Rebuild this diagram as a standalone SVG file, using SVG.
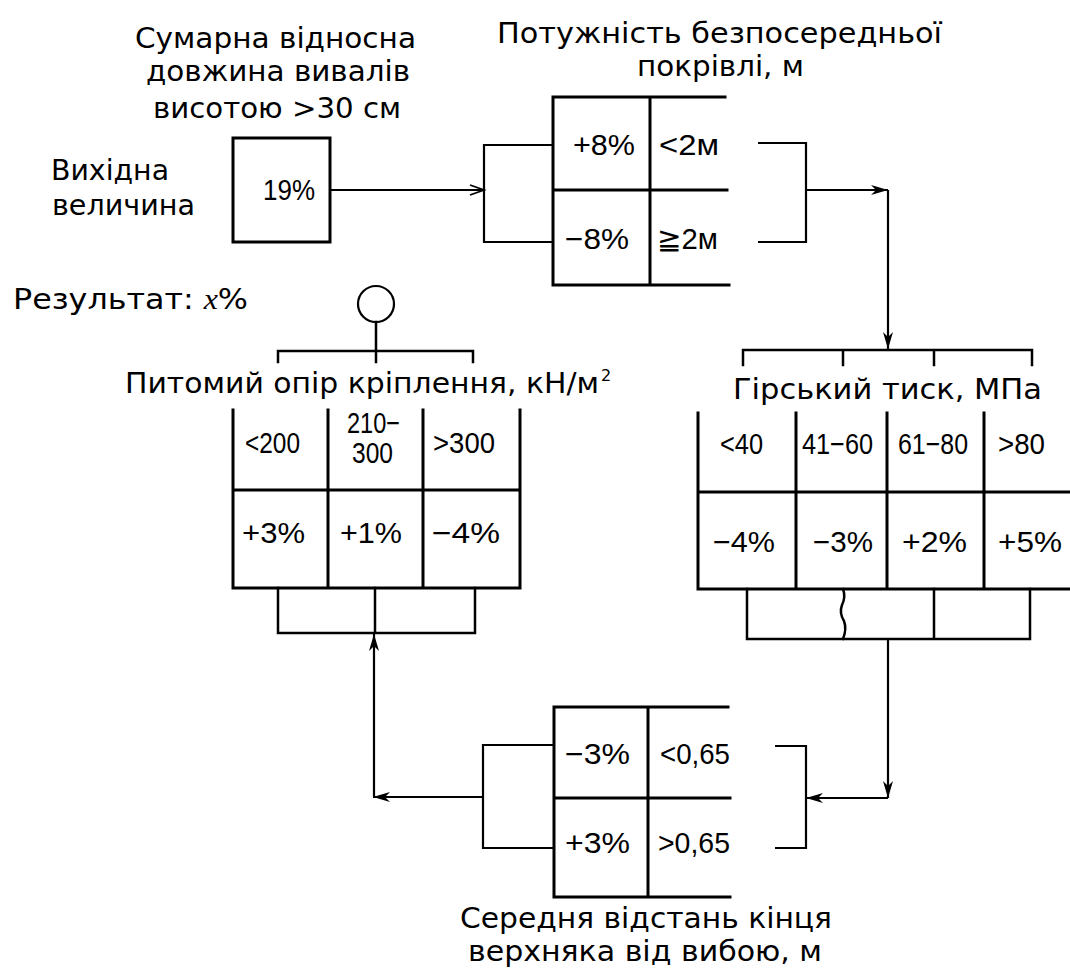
<svg xmlns="http://www.w3.org/2000/svg" width="1070" height="970" viewBox="0 0 1070 970">
<style>
.t{font-family:"DejaVu Sans","Liberation Sans",sans-serif;font-size:29px;fill:#000}
.c{font-family:"Liberation Sans","DejaVu Sans",sans-serif;font-size:29px;fill:#000}
.b{stroke:#000;stroke-width:3;fill:none;stroke-linecap:square}
.l{stroke:#000;stroke-width:2.2;fill:none}
</style>
<defs>
<marker id="ah" markerUnits="userSpaceOnUse" markerWidth="20" markerHeight="12" refX="17" refY="6" orient="auto">
<path d="M0,1 L17,6 L0,11 L5,6 Z" fill="#000"/>
</marker>
<marker id="ao" markerUnits="userSpaceOnUse" markerWidth="18" markerHeight="12" refX="15" refY="6" orient="auto">
<path d="M1,1 L15,6 L1,11 M5,6 L15,6" stroke="#000" stroke-width="1.8" fill="none"/>
</marker>
</defs>
<rect width="1070" height="970" fill="#fff"/>

<g id="labels">
<text class="t" x="135" y="48" textLength="281" lengthAdjust="spacingAndGlyphs">Сумарна відносна</text>
<text class="t" x="146" y="81" textLength="264" lengthAdjust="spacingAndGlyphs">довжина вивалів</text>
<text class="t" x="153" y="118" textLength="248" lengthAdjust="spacingAndGlyphs">висотою &gt;30 см</text>
<text class="t" x="51" y="180" textLength="118" lengthAdjust="spacingAndGlyphs">Вихідна</text>
<text class="t" x="52" y="215" textLength="143" lengthAdjust="spacingAndGlyphs">величина</text>
<text class="t" x="13" y="309" textLength="235" lengthAdjust="spacingAndGlyphs">Результат: <tspan font-family="Liberation Serif,serif" font-style="italic">x</tspan>%</text>
<text class="t" x="497" y="43" textLength="445" lengthAdjust="spacingAndGlyphs">Потужність безпосередньої</text>
<text class="t" x="637" y="76" textLength="167" lengthAdjust="spacingAndGlyphs">покрівлі, м</text>
<text class="t" x="125" y="393" textLength="474" lengthAdjust="spacingAndGlyphs">Питомий опір кріплення, кН/м</text>
<text class="t" x="601" y="381" style="font-size:16px">2</text>
<text class="t" x="733" y="399" textLength="309" lengthAdjust="spacingAndGlyphs">Гірський тиск, МПа</text>
<text class="t" x="460" y="928" textLength="372" lengthAdjust="spacingAndGlyphs">Середня відстань кінця</text>
<text class="t" x="468" y="961" textLength="354" lengthAdjust="spacingAndGlyphs">верхняка від вибою, м</text>
</g>

<g id="input">
<rect class="b" x="233" y="138" width="97" height="104"/>
<text class="c" x="263" y="200" textLength="52" lengthAdjust="spacingAndGlyphs">19%</text>
</g>

<g id="roof-thickness">
<path class="b" d="M553,97 V285 M650,97 V285 M553,97 H725 M553,190 H727 M553,285 H729"/>
<text class="c" x="573" y="155" textLength="62" lengthAdjust="spacingAndGlyphs">+8%</text>
<text class="c" x="659" y="155" textLength="60" lengthAdjust="spacingAndGlyphs">&lt;2м</text>
<text class="c" x="565" y="249" textLength="64" lengthAdjust="spacingAndGlyphs">−8%</text>
<text class="c" x="657" y="249" textLength="61" lengthAdjust="spacingAndGlyphs">≧2м</text>
</g>

<g id="rock-pressure">
<path class="b" d="M698,413 V589 M796,413 V589 M887,413 V589 M984,413 V589 M698,492 H1070 M698,589 H1070"/>
<text class="c" x="720" y="454" textLength="43" lengthAdjust="spacingAndGlyphs">&lt;40</text>
<text class="c" x="802" y="454" textLength="71" lengthAdjust="spacingAndGlyphs">41−60</text>
<text class="c" x="898" y="454" textLength="70" lengthAdjust="spacingAndGlyphs">61−80</text>
<text class="c" x="998" y="454" textLength="47" lengthAdjust="spacingAndGlyphs">&gt;80</text>
<text class="c" x="713" y="552" textLength="62" lengthAdjust="spacingAndGlyphs">−4%</text>
<text class="c" x="813" y="552" textLength="60" lengthAdjust="spacingAndGlyphs">−3%</text>
<text class="c" x="902" y="552" textLength="65" lengthAdjust="spacingAndGlyphs">+2%</text>
<text class="c" x="998" y="552" textLength="64" lengthAdjust="spacingAndGlyphs">+5%</text>
</g>

<g id="support-resistance">
<path class="b" d="M233,410 V588 M328,410 V588 M423,410 V588 M520,410 V588 M233,490 H520 M233,588 H520"/>
<text class="c" x="245" y="453" textLength="55" lengthAdjust="spacingAndGlyphs">&lt;200</text>
<text class="c" x="347" y="433" textLength="53" lengthAdjust="spacingAndGlyphs">210−</text>
<text class="c" x="352" y="463" textLength="41" lengthAdjust="spacingAndGlyphs">300</text>
<text class="c" x="433" y="453" textLength="62" lengthAdjust="spacingAndGlyphs">&gt;300</text>
<text class="c" x="242" y="543" textLength="63" lengthAdjust="spacingAndGlyphs">+3%</text>
<text class="c" x="340" y="543" textLength="62" lengthAdjust="spacingAndGlyphs">+1%</text>
<text class="c" x="432" y="543" textLength="68" lengthAdjust="spacingAndGlyphs">−4%</text>
</g>

<g id="prop-distance">
<path class="b" d="M554,707 V897 M648,707 V897 M554,707 H728 M554,798 H730 M554,897 H730"/>
<text class="c" x="565" y="764" textLength="65" lengthAdjust="spacingAndGlyphs">−3%</text>
<text class="c" x="660" y="764" textLength="70" lengthAdjust="spacingAndGlyphs">&lt;0,65</text>
<text class="c" x="565" y="853" textLength="65" lengthAdjust="spacingAndGlyphs">+3%</text>
<text class="c" x="658" y="853" textLength="72" lengthAdjust="spacingAndGlyphs">&gt;0,65</text>
</g>

<g id="result">
<circle class="l" cx="376" cy="304" r="18"/>
</g>

<g id="connectors">
<path class="l" d="M330,190 H484" marker-end="url(#ao)"/>
<path class="l" d="M553,145 H484 V242 H553"/>
<path class="l" d="M758,143 H806 V242 H758"/>
<path class="l" d="M806,190 H888" marker-end="url(#ah)"/>
<path class="l" d="M888,190 V349" marker-end="url(#ah)"/>
<path class="b" d="M743,365 V350 H1032 V365 M843,350 V365 M934,350 V365" style="stroke-width:2.5"/>
<path class="b" d="M747,589 V639 H1030 V589 M934,589 V639" style="stroke-width:2.5"/>
<path class="b" d="M843,589 q3,8 -1,16 q-3,8 2,16 q3,8 -1,18" style="stroke-width:2.5"/>
<path class="l" d="M888,639 V798" marker-end="url(#ah)"/>
<path class="l" d="M888,798 H806" marker-end="url(#ah)"/>
<path class="l" d="M775,746 H806 V848 H775"/>
<path class="l" d="M554,745 H483 V848 H554"/>
<path class="l" d="M483,797 H373" marker-end="url(#ah)"/>
<path class="l" d="M374,797 V634" marker-end="url(#ah)"/>
<path class="b" d="M278,588 V633 H475 V588 M375,588 V633" style="stroke-width:2.5"/>
<path class="b" d="M278,362 V351 H473 V362 M376,322 V362" style="stroke-width:2.5"/>
</g>
</svg>
